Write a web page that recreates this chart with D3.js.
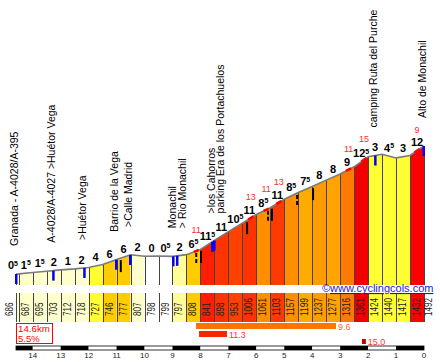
<!DOCTYPE html>
<html>
<head>
<meta charset="utf-8">
<script src="https://cdn.jsdelivr.net/npm/d3@7"></script>
<style>
  body { margin: 0; background: #fff; }
  svg { display: block; font-family: 'Liberation Sans', Arial, sans-serif; }
</style>
</head>
<body>
<div id="chart"></div>
<script>
// profile points: distance to the top (km) and elevation (m)
const kms = [14.6, 14.5, 14, 13.5, 13, 12.5, 12, 11.5, 11, 10.5, 10, 9.5, 9, 8.5, 8, 7.5, 7,
  6.5, 6, 5.5, 5, 4.5, 4, 3.5, 3, 2.5, 2, 1.5, 1, 0.5, 0];
const elevations = [686, 687, 695, 703, 712, 718, 727, 746, 777, 807, 798, 799, 797, 808, 841,
  898, 953, 1006, 1061, 1103, 1157, 1199, 1237, 1277, 1316, 1361, 1424, 1440, 1417, 1432, 1492];
// gradient printed above each column
const gradeLabels = ['0.5', '1.5', '1.5', '2', '1', '2', '4', '6', '6', '2', '0', '0.5', '2', '6.5',
  '11.5', '11', '10.5', '11', '8.5', '11', '8.5', '7.5', '8', '8', '9', '12.5', '3', '4.5', '3', '12'];
const kmTicks = [14, 13, 12, 11, 10, 9, 8, 7, 6, 5, 4, 3, 2, 1, 0];

// named points along the climb
const placeKm = [14.6, 13.27, 12.16, 11.02, 10.52, 8.93, 7.56, 1.75, 0];
const placeNames = [
  ['Granada - A-4028/A-395'],
  ['A-4028/A-4027 >Huétor Vega'],
  ['>Huétor Vega'],
  ['Barrio de la Vega'],
  ['>Calle Madrid'],
  ['Monachil', '> Rio Monachil'],
  ['>los Cahorros', 'parking Era de los Portachuelos'],
  ['camping Ruta del Purche'],
  ['Alto de Monachil']
];
const blueMarks = [14.6, 13.27, 12.16, 11.02, 10.52, 8.98, 8.84, 7.58, 7.51, 1.75, 0];
const blackMarks = [10.85, 8.15, 7.98, 6.33, 5.58, 5.44, 4.54, 3.97];
const blackDashed = [false, true, false, false, true, false, true, false];

// steepest short bits
const steepKm = [8.15, 6.2, 5.65, 5.2, 2.7, 2.15, 0.25];
const steepVal = [11, 13, 11, 13, 11, 15, 9];

// best stretches: 5 km, 1 km, 100 m
const bestFrom = [8.16, 8.05, 2.22];
const bestTo = [3.15, 7.05, 2.08];
const bestGrade = ['9.6', '11.3', '15.0'];
const bestText = ['#ff6633', '#ff3333', '#ff3333'];

const totalKm = 14.6, avgGrade = 5.5;

var width = 440, height = 362;
var base = 285, bandTop = 293, bandBottom = 322;

var x = d3.scaleLinear().domain([14.6, 0]).range([16, 424]);
var y = d3.scaleLinear().domain([686, 1492]).range([274, 146]);

// colour by gradient
var lowColor = d3.scaleThreshold()
  .domain([1, 2, 3, 5, 7])
  .range(['#ffffff', '#ffffcc', '#ffff99', '#ffff33', '#ffcc00', '#ffcc00']);
var highColor = d3.scaleLinear()
  .domain([7, 9, 11, 12, 15])
  .range(['#ffc000', '#ff7a00', '#ff3300', '#ff0000', '#c00000'])
  .clamp(true);
function gradeColor(g) {
  g = Math.abs(g);
  return g < 7 ? lowColor(g) : highColor(g);
}

function elevAt(km) {
  for (var i = 0; i < kms.length - 1; i++) {
    if (km <= kms[i] && km >= kms[i + 1]) {
      var t = (kms[i] - km) / (kms[i] - kms[i + 1]);
      return elevations[i] + t * (elevations[i + 1] - elevations[i]);
    }
  }
  return km > kms[0] ? elevations[0] : elevations[elevations.length - 1];
}

var points = kms.map(function (k, i) { return { km: k, e: elevations[i] }; });
var cols = d3.range(points.length - 1).map(function (i) {
  var a = points[i], b = points[i + 1];
  return { i: i, a: a, b: b, grade: (b.e - a.e) / ((a.km - b.km) * 10) };
});

var svg = d3.select('#chart').append('svg')
  .attr('width', width).attr('height', height);

// profile columns
var area = d3.area().x(function (d) { return x(d.km); }).y0(base).y1(function (d) { return y(d.e); });
svg.append('g').selectAll('path').data(cols).enter().append('path')
  .attr('d', function (d) { return area([d.a, d.b]); })
  .attr('fill', function (d) { return gradeColor(d.grade); });

// elevation band
svg.append('g').selectAll('rect').data(cols).enter().append('rect')
  .attr('x', function (d) { return x(d.a.km); })
  .attr('width', function (d) { return x(d.b.km) - x(d.a.km); })
  .attr('y', bandTop).attr('height', bandBottom - bandTop)
  .attr('fill', function (d) { return gradeColor(d.grade); });

// column dividers
var div = svg.append('g').attr('stroke', '#444').attr('stroke-width', 1);
points.forEach(function (p) {
  var xx = Math.round(x(p.km)) + 0.5;
  div.append('line').attr('x1', xx).attr('x2', xx).attr('y1', y(p.e)).attr('y2', base);
  div.append('line').attr('x1', xx).attr('x2', xx).attr('y1', bandTop).attr('y2', bandBottom);
});

// profile line
svg.append('path').datum(points)
  .attr('d', d3.line().x(function (d) { return x(d.km); }).y(function (d) { return y(d.e); }))
  .attr('fill', 'none').attr('stroke', '#7a7a7a').attr('stroke-width', 1.6);

// red steep bits on the line
var line = d3.line().x(function (k) { return x(k); }).y(function (k) { return y(elevAt(k)); });
steepKm.forEach(function (k, i) {
  svg.append('path').attr('d', line([k + 0.09, k, k - 0.09]))
    .attr('fill', 'none').attr('stroke', '#ff0000').attr('stroke-width', 2.5);
  svg.append('text').attr('x', x(k)).attr('y', y(elevAt(k)) - 18)
    .attr('text-anchor', 'middle').attr('font-size', 9).attr('fill', '#ff2a2a')
    .text(steepVal[i]);
});

// black marks
blackMarks.forEach(function (k, i) {
  var yy = y(elevAt(k));
  svg.append('line').attr('x1', x(k)).attr('x2', x(k)).attr('y1', yy + 2).attr('y2', yy + 14)
    .attr('stroke', '#000').attr('stroke-width', 2)
    .attr('stroke-dasharray', blackDashed[i] ? '4,2' : null);
});

// blue marks
blueMarks.forEach(function (k) {
  var yy = y(elevAt(k));
  svg.append('rect').attr('x', Math.min(x(k) - 1, 422.5)).attr('y', yy)
    .attr('width', 2.5).attr('height', 10).attr('fill', '#0000ff');
});

// gradient labels
cols.forEach(function (d, i) {
  var lab = gradeLabels[i];
  var half = lab.indexOf('.5') > -1;
  var mid = (d.a.km + d.b.km) / 2;
  var t = svg.append('text')
    .attr('x', i === 0 ? x(d.a.km) + 2 : x(mid))
    .attr('y', y(elevAt(mid)) - 4.5)
    .attr('text-anchor', i === 0 ? 'end' : 'middle')
    .attr('font-size', 11).attr('font-weight', 'bold').attr('fill', '#000');
  t.append('tspan').text(half ? lab.split('.')[0] : lab);
  if (half) t.append('tspan').attr('font-size', 7).attr('dy', -3.5).text('5');
});

// place names
placeKm.forEach(function (k, i) {
  var bottom = y(elevAt(k)) - 28;
  placeNames[i].forEach(function (s, j) {
    var bx = Math.min(x(k) + 2 + j * 9.5, 427);
    svg.append('text')
      .attr('transform', 'translate(' + bx + ',' + bottom + ') rotate(-90)')
      .attr('font-size', 10.5).attr('fill', '#000').text(s);
  });
});

// elevations in the band
points.forEach(function (p, i) {
  var bx;
  if (i === 0) bx = x(p.km) - 3;
  else if (i === points.length - 1) bx = x(p.km) + 8;
  else bx = (x(p.km) + x(points[i + 1].km)) / 2 + 3;
  var s = String(p.e);
  svg.append('text')
    .attr('transform', 'translate(' + bx + ',316) rotate(-90)')
    .attr('font-size', 10).attr('fill', '#222')
    .attr('textLength', s.length * 4.5).attr('lengthAdjust', 'spacingAndGlyphs')
    .text(s);
});

// site link
var site = svg.append('text').attr('x', 322).attr('y', 292).attr('font-size', 11).attr('fill', '#1a1ad6');
site.append('tspan').text('©');
site.append('tspan').attr('text-decoration', 'underline').text('www.cyclingcols.com');

// total box
svg.append('rect').attr('x', 16.5).attr('y', 323.5).attr('width', 36).attr('height', 20)
  .attr('fill', '#fff').attr('stroke', '#ff0000');
svg.append('text').attr('x', 18).attr('y', 332).attr('font-size', 9.5).attr('fill', '#ff0000')
  .attr('textLength', 32).attr('lengthAdjust', 'spacingAndGlyphs')
  .text(totalKm + 'km');
svg.append('text').attr('x', 18).attr('y', 342).attr('font-size', 9.5).attr('fill', '#ff0000')
  .text(avgGrade + '%');

// best stretches
bestFrom.forEach(function (f, i) {
  var top = 323 + i * 8;
  var h = i === 2 ? 5 : 6;
  svg.append('rect').attr('x', x(f)).attr('y', top)
    .attr('width', x(bestTo[i]) - x(f)).attr('height', h)
    .attr('fill', i === 0 ? '#ff7400' : gradeColor(+bestGrade[i]));
  svg.append('text').attr('x', x(bestTo[i]) + 2).attr('y', top + h + 0.5)
    .attr('font-size', 9).attr('fill', bestText[i]).text(bestGrade[i]);
});

// km axis
var edges = [kms[0]].concat(kmTicks);
var axis = svg.append('g');
d3.range(edges.length - 1).forEach(function (i) {
  axis.append('rect').attr('x', x(edges[i])).attr('y', 346)
    .attr('width', x(edges[i + 1]) - x(edges[i])).attr('height', 4)
    .attr('fill', i % 2 === 0 ? '#000' : '#fff');
});
axis.append('rect').attr('x', x(edges[0])).attr('y', 346)
  .attr('width', x(0) - x(edges[0])).attr('height', 4)
  .attr('fill', 'none').attr('stroke', '#000').attr('stroke-width', 0.8);
axis.selectAll('text.km').data(kmTicks).enter().append('text')
  .attr('x', function (d) { return x(d); }).attr('y', 358)
  .attr('text-anchor', 'middle').attr('font-size', 8).attr('fill', '#222')
  .text(function (d) { return d; });
</script>
</body>
</html>
